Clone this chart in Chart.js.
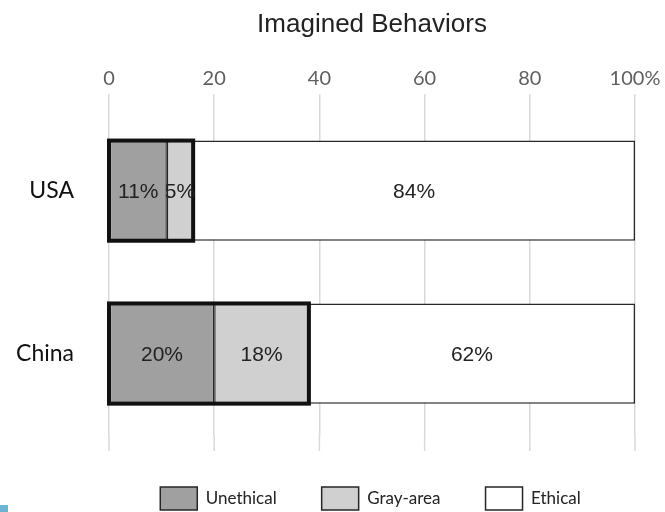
<!DOCTYPE html>
<html>
<head>
<meta charset="utf-8">
<script src="https://cdn.jsdelivr.net/npm/chart.js@4/dist/chart.umd.min.js"></script>
<style>
  html, body { margin: 0; padding: 0; background: #fff; overflow: hidden; }
  #wrap { position: relative; width: 665px; height: 512px; }
  #corner { position: absolute; left: 0; top: 505px; width: 8px; height: 7px; background: #6cb4d4; }
</style>
</head>
<body>
<div id="wrap">
  <canvas id="chart" width="665" height="512"></canvas>
  <div id="corner"></div>
</div>
<script>
// Share of imagined behaviours by country (percent)
const countries = ['USA', 'China'];
const unethical = [11, 20];
const grayArea = [5, 18];
const ethical = [84, 62];
const seriesNames = ['Unethical', 'Gray-area', 'Ethical'];
const seriesColors = ['#a0a0a0', '#d0d0d0', '#ffffff'];
const xTickValues = [0, 20, 40, 60, 80, 100];

const LEGEND_PAD = 45;
const LEGEND_HEIGHT = 77;
const LEGEND_SHIFT = 53;
const LEGEND_DROP = 7;

// Legend keeps its wide item spacing without eating into the plot height;
// title is centred over the plot area
const layoutTweaks = {
  id: 'layoutTweaks',
  beforeUpdate(chart) {
    const lg = chart.legend;
    if (lg && !lg._fitPatched) {
      const fit = lg.fit.bind(lg);
      lg.fit = function () { fit(); this.height = LEGEND_HEIGHT; };
      lg._fitPatched = true;
    }
  },
  afterLayout(chart) {
    const lg = chart.legend;
    if (lg) {
      lg.left += LEGEND_SHIFT; lg.right += LEGEND_SHIFT;
      lg.top += LEGEND_DROP; lg.bottom += LEGEND_DROP;
    }
    const t = chart.titleBlock;
    const ca = chart.chartArea;
    if (t && ca) {
      const dx = (ca.left + ca.right) / 2 - (t.left + t.right) / 2;
      t.left += dx; t.right += dx;
    }
  }
};

// Gridlines continue a little below the last bar
const gridTail = {
  id: 'gridTail',
  beforeDatasetsDraw(chart) {
    const { ctx, chartArea, scales: { x } } = chart;
    ctx.save();
    ctx.strokeStyle = '#d9d9d9';
    ctx.lineWidth = 1.5;
    xTickValues.forEach((v) => {
      const px = x.getPixelForValue(v);
      ctx.beginPath();
      ctx.moveTo(px, chartArea.bottom);
      ctx.lineTo(px, chartArea.bottom + 16);
      ctx.stroke();
    });
    ctx.restore();
  }
};

// Heavy frame around the non-ethical part of each bar
const nonEthicalFrame = {
  id: 'nonEthicalFrame',
  afterDatasetsDraw(chart) {
    const { ctx, scales: { x } } = chart;
    const meta = chart.getDatasetMeta(0);
    ctx.save();
    ctx.strokeStyle = '#111';
    ctx.lineWidth = 4;
    ctx.lineJoin = 'miter';
    meta.data.forEach((bar, i) => {
      const x0 = x.getPixelForValue(0);
      const x1 = x.getPixelForValue(unethical[i] + grayArea[i]);
      const top = bar.y - bar.height / 2;
      ctx.strokeRect(x0, top, x1 - x0, bar.height);
    });
    ctx.restore();
  }
};

// Percent labels centred in each segment
const segmentLabels = {
  id: 'segmentLabels',
  afterDatasetsDraw(chart) {
    const { ctx } = chart;
    ctx.save();
    ctx.font = '21px "Liberation Sans", Arial, sans-serif';
    ctx.fillStyle = '#222';
    ctx.textAlign = 'center';
    ctx.textBaseline = 'middle';
    chart.data.datasets.forEach((ds, di) => {
      chart.getDatasetMeta(di).data.forEach((bar, i) => {
        const c = bar.getCenterPoint();
        ctx.fillText(ds.data[i] + '%', c.x, c.y + 2);
      });
    });
    ctx.restore();
  }
};

const seriesData = [unethical, grayArea, ethical];

new Chart(document.getElementById('chart'), {
  type: 'bar',
  data: {
    labels: countries,
    datasets: seriesData.map((values, k) => ({
      label: seriesNames[k],
      data: values,
      backgroundColor: seriesColors[k],
      borderColor: '#262626',
      borderWidth: 1.5,
      borderSkipped: false,
      categoryPercentage: 1,
      barPercentage: 0.615
    }))
  },
  options: {
    indexAxis: 'y',
    responsive: false,
    animation: false,
    devicePixelRatio: 1,
    layout: { padding: { left: 0, right: 30, top: 0, bottom: 0 } },
    scales: {
      x: {
        position: 'top',
        stacked: true,
        min: 0,
        max: 100,
        afterFit(scale) { scale.height = 51; },
        afterBuildTicks(scale) { scale.ticks = xTickValues.map((v) => ({ value: v })); },
        ticks: {
          padding: 4,
          color: '#5f5f5f',
          font: { family: 'Lato, "Open Sans", sans-serif', size: 20 },
          callback: (v) => (v === 100 ? '100%' : String(v))
        },
        grid: { color: '#d9d9d9', lineWidth: 1.5, tickLength: 15, drawTicks: true },
        border: { display: false }
      },
      y: {
        stacked: true,
        afterFit(scale) { scale.width = 109; },
        ticks: {
          padding: 27,
          color: '#111',
          font: { family: 'Lato, "Open Sans", sans-serif', size: 23 }
        },
        grid: { display: false },
        border: { display: false }
      }
    },
    plugins: {
      title: {
        display: true,
        text: 'Imagined Behaviors',
        color: '#222',
        font: { family: '"Liberation Sans", Arial, sans-serif', size: 26, weight: 'normal' },
        padding: { top: 9, bottom: 18 }
      },
      legend: {
        position: 'bottom',
        labels: {
          boxWidth: 37,
          boxHeight: 23,
          padding: LEGEND_PAD,
          color: '#222',
          font: { family: 'Lato, "Open Sans", sans-serif', size: 17 }
        }
      },
      tooltip: { enabled: false }
    }
  },
  plugins: [layoutTweaks, gridTail, nonEthicalFrame, segmentLabels]
});
</script>
</body>
</html>
